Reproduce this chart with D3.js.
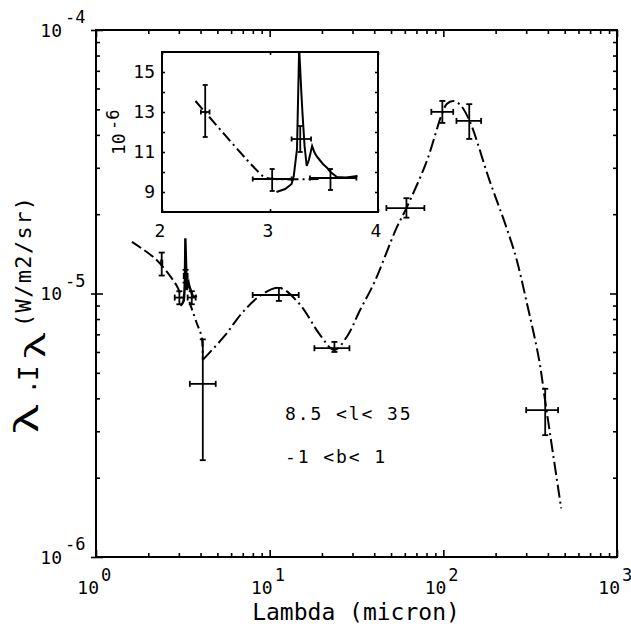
<!DOCTYPE html>
<html>
<head>
<meta charset="utf-8">
<script src="https://cdn.jsdelivr.net/npm/d3@7"></script>
<style>
body { margin: 0; background: #fff; }
text { font-family: "DejaVu Sans Mono", monospace; fill: #000; }
</style>
</head>
<body>
<svg id="chart" width="631" height="624"></svg>
<script>
// ---- data ----
// main panel: lambda (micron), lambda*I_lambda (W/m2/sr)
var nirDashed = [[1.61, 1.57e-5], [2.18, 1.36e-5], [2.66, 1.17e-5], [2.96, 1.05e-5], [3.1, 9.6e-6]];
var nirDrop = [[3.45, 9.3e-6], [3.8, 7.73e-6], [4.06, 6.84e-6], [4.12, 5.6e-6]];
var sedModel = [[4.12, 5.6e-6], [5.5, 6.9e-6], [7.0, 8.5e-6], [9.0, 9.9e-6], [11.4, 1.05e-5],
    [14.9, 9.1e-6], [19.4, 7.0e-6], [23.6, 6.1e-6], [28, 6.9e-6], [33, 8.6e-6], [40, 1.1e-5],
    [53.7, 1.77e-5], [61.3, 2.11e-5], [80, 3.16e-5], [98.7, 4.85e-5], [105, 5.25e-5],
    [114, 5.38e-5], [125, 5.2e-5], [141, 4.55e-5], [184, 2.7e-5], [233, 1.75e-5],
    [263, 1.36e-5], [300, 9.45e-6], [356, 5.6e-6], [386, 3.9e-6], [477, 1.53e-6]];
// [lambda, flux, lambdaLo, lambdaHi, fluxLo, fluxHi]
var mainPoints = [
    [2.39, 1.31e-5, 2.37, 2.41, 1.17e-5, 1.43e-5],
    [3.02, 9.65e-6, 2.84, 3.2, 9.1e-6, 1.02e-5],
    [3.28, 1.165e-5, 3.2, 3.37, 1.1e-5, 1.23e-5],
    [3.56, 9.65e-6, 3.37, 3.75, 9.1e-6, 1.02e-5],
    [4.12, 4.54e-6, 3.47, 4.89, 2.33e-6, 6.7e-6],
    [11.3, 9.87e-6, 7.98, 14.7, 9.37e-6, 1.05e-5],
    [23.6, 6.2e-6, 18.1, 28.8, 6.0e-6, 6.55e-6],
    [61.3, 2.11e-5, 47, 77.8, 1.94e-5, 2.3e-5],
    [98.7, 4.89e-5, 85.3, 114, 4.44e-5, 5.38e-5],
    [141, 4.52e-5, 119, 165, 3.86e-5, 5.23e-5],
    [386, 3.61e-6, 300, 458, 2.9e-6, 4.35e-6]
];

// inset: lambda (micron), flux in units of 1e-6
var spectrum = [[3.06, 9.0], [3.14, 9.15], [3.2, 9.4], [3.22, 9.8], [3.25, 11.15], [3.27, 16.2],
    [3.29, 14.0], [3.3, 13.0], [3.32, 11.3], [3.34, 10.3], [3.36, 10.6], [3.39, 11.3],
    [3.41, 11.0], [3.43, 10.8], [3.46, 10.6], [3.49, 10.4], [3.53, 10.2], [3.56, 10.0],
    [3.62, 9.75], [3.7, 9.72], [3.74, 9.75], [3.81, 9.8]];
var insetModel = [[2.31, 13.55], [2.84, 10.3], [2.95, 9.75], [3.05, 9.65], [3.45, 9.65]];
var insetPoints = [
    [2.40, 13.0, 2.36, 2.44, 11.75, 14.35],
    [3.02, 9.65, 2.84, 3.2, 9.05, 10.15],
    [3.28, 11.65, 3.2, 3.38, 11.0, 12.3],
    [3.56, 9.7, 3.37, 3.8, 9.1, 10.15]
];

var xDecades = [0, 1, 2, 3];
var yDecades = [-4, -5, -6];
var insetXTicks = [2, 3, 4];
var insetYTicks = [9, 11, 13, 15];
var insetYMinor = [9, 10, 11, 12, 13, 14, 15];
var regionText = ["8.5 <l< 35", "-1 <b< 1"];

// ---- layout ----
var svg = d3.select("#chart"),
    margin = { top: 30, right: 14, bottom: 67, left: 96 },
    width = +svg.attr("width") - margin.left - margin.right,
    height = +svg.attr("height") - margin.top - margin.bottom,
    g = svg.append("g").attr("transform", "translate(" + margin.left + "," + margin.top + ")");

var x = d3.scaleLog().domain([1, 1000]).range([0, width]);
var y = d3.scaleLog().domain([1e-6, 1e-4]).range([height, 0]);

function isMajor(v) {
    var l = Math.log10(v);
    return Math.abs(l - Math.round(l)) < 1e-9;
}
var xMinor = x.ticks().filter(function (v) { return !isMajor(v); });
var xMajor = xDecades.map(function (e) { return Math.pow(10, e); });
var yMinor = y.ticks().filter(function (v) { return !isMajor(v); });
var yMajor = yDecades.map(function (e) { return Math.pow(10, e); });

function tickSet(parent, axis, tr, vals, size) {
    parent.append("g")
        .attr("transform", tr)
        .call(axis.tickValues(vals).tickSize(size).tickFormat(""))
        .call(function (s) { s.select(".domain").remove(); })
        .selectAll("line").attr("stroke", "#000").attr("stroke-width", 1.6);
}

// ticks, all pointing in
tickSet(g, d3.axisTop(x), "translate(0," + height + ")", xMinor, 4);
tickSet(g, d3.axisTop(x), "translate(0," + height + ")", xMajor, 7);
tickSet(g, d3.axisBottom(x), "translate(0,0)", xMinor, 4);
tickSet(g, d3.axisBottom(x), "translate(0,0)", xMajor, 7);
tickSet(g, d3.axisRight(y), "translate(0,0)", yMinor, 4);
tickSet(g, d3.axisRight(y), "translate(0,0)", yMajor, 7);
tickSet(g, d3.axisLeft(y), "translate(0,0)", yMajor, 5);
tickSet(g, d3.axisLeft(y), "translate(" + width + ",0)", yMinor, 4);
tickSet(g, d3.axisLeft(y), "translate(" + width + ",0)", yMajor, 7);

g.append("rect")
    .attr("width", width).attr("height", height)
    .attr("fill", "none").attr("stroke", "#000").attr("stroke-width", 2);

// tick labels 10^n
xDecades.forEach(function (e) {
    var px = x(Math.pow(10, e));
    g.append("text").attr("x", px + 3).attr("y", height + 37)
        .attr("text-anchor", "end").attr("font-size", 18).text("10");
    g.append("text").attr("x", px + 5).attr("y", height + 24)
        .attr("font-size", 17).text(e);
});
yDecades.forEach(function (e) {
    var py = y(Math.pow(10, e));
    g.append("text").attr("x", -34).attr("y", py + 6.5)
        .attr("text-anchor", "end").attr("font-size", 18).text("10");
    g.append("text").attr("x", -31).attr("y", py - 7)
        .attr("font-size", 17).text(e);
});

// axis titles
g.append("text")
    .attr("x", 260).attr("y", height + 63)
    .attr("text-anchor", "middle").attr("font-size", 23)
    .text("Lambda (micron)");

var yl = svg.append("g").attr("transform", "translate(38,432) rotate(-90)");
yl.append("text").attr("x", 0).attr("y", 0)
    .style("font-family", "Noto Sans").attr("font-size", 32)
    .attr("textLength", 27).attr("lengthAdjust", "spacingAndGlyphs").text("λ");
yl.append("text").attr("x", 38).attr("y", -2).attr("font-size", 24).text(".");
yl.append("text").attr("x", 51).attr("y", 0).attr("font-size", 26).text("I");
yl.append("text").attr("x", 75).attr("y", 7)
    .style("font-family", "Noto Sans").attr("font-size", 28)
    .attr("textLength", 24).attr("lengthAdjust", "spacingAndGlyphs").text("λ");
yl.append("text").attr("x", 105).attr("y", -7).attr("font-size", 22)
    .attr("textLength", 130).text("(W/m2/sr)");

// region annotation
regionText.forEach(function (t, i) {
    g.append("text")
        .attr("x", 189).attr("y", 390 + i * 43)
        .attr("font-size", 18).attr("letter-spacing", 1.9)
        .text(t);
});

// ---- main curves ----
function lineGen(sx, sy, curve) {
    return d3.line()
        .x(function (d) { return sx(d[0]); })
        .y(function (d) { return sy(d[1]); })
        .curve(curve);
}
var smooth = lineGen(x, y, d3.curveCatmullRom.alpha(0.5));

g.append("path").datum(nirDashed).attr("d", smooth)
    .attr("fill", "none").attr("stroke", "#000").attr("stroke-width", 2)
    .attr("stroke-dasharray", "11,4");
g.append("path").datum(nirDrop).attr("d", smooth)
    .attr("fill", "none").attr("stroke", "#000").attr("stroke-width", 2)
    .attr("stroke-dasharray", "9,4,2,4");
g.append("path").datum(sedModel).attr("d", smooth)
    .attr("fill", "none").attr("stroke", "#000").attr("stroke-width", 2)
    .attr("stroke-dasharray", "13,4,2,4");
g.append("path")
    .datum(spectrum.map(function (d) { return [d[0], d[1] * 1e-6]; }))
    .attr("d", lineGen(x, y, d3.curveLinear))
    .attr("fill", "none").attr("stroke", "#000").attr("stroke-width", 2.4);

function errorBars(parent, sx, sy, data, cap) {
    var eb = parent.append("g").attr("stroke", "#000").attr("stroke-width", 1.8);
    data.forEach(function (d) {
        var cx = sx(d[0]), cy = sy(d[1]);
        var x0 = sx(d[2]), x1 = sx(d[3]), y0 = sy(d[4]), y1 = sy(d[5]);
        eb.append("line").attr("x1", x0).attr("x2", x1).attr("y1", cy).attr("y2", cy);
        eb.append("line").attr("x1", cx).attr("x2", cx).attr("y1", y0).attr("y2", y1);
        [x0, x1].forEach(function (px) {
            eb.append("line").attr("x1", px).attr("x2", px).attr("y1", cy - cap).attr("y2", cy + cap);
        });
        [y0, y1].forEach(function (py) {
            eb.append("line").attr("x1", cx - cap).attr("x2", cx + cap).attr("y1", py).attr("y2", py);
        });
    });
}
errorBars(g, x, y, mainPoints, 3);

// ---- inset ----
var iw = 216, ih = 160;
var ig = g.append("g").attr("transform", "translate(66,22)");
var ix = d3.scaleLinear().domain([2, 4]).range([0, iw]);
var iy = d3.scaleLinear().domain([8, 16]).range([ih, 0]);

ig.append("rect").attr("width", iw).attr("height", ih).attr("fill", "#fff");
svg.append("defs").append("clipPath").attr("id", "insetClip")
    .append("rect").attr("width", iw).attr("height", ih);

tickSet(ig, d3.axisRight(iy), "translate(0,0)", insetYMinor, 3);
tickSet(ig, d3.axisLeft(iy), "translate(" + iw + ",0)", insetYMinor, 3);
tickSet(ig, d3.axisTop(ix), "translate(0," + ih + ")", insetXTicks, 3);
tickSet(ig, d3.axisBottom(ix), "translate(0,0)", insetXTicks, 3);

var plot = ig.append("g").attr("clip-path", "url(#insetClip)");
plot.append("path").datum(insetModel).attr("d", lineGen(ix, iy, d3.curveCatmullRom.alpha(0.5)))
    .attr("fill", "none").attr("stroke", "#000").attr("stroke-width", 2)
    .attr("stroke-dasharray", "11,4,2,4");
plot.append("path").datum(spectrum).attr("d", lineGen(ix, iy, d3.curveLinear))
    .attr("fill", "none").attr("stroke", "#000").attr("stroke-width", 2);
errorBars(plot, ix, iy, insetPoints, 2.5);

ig.append("rect").attr("width", iw).attr("height", ih)
    .attr("fill", "none").attr("stroke", "#000").attr("stroke-width", 2);

insetYTicks.forEach(function (v) {
    ig.append("text").attr("x", -7).attr("y", iy(v) + 6)
        .attr("text-anchor", "end").attr("font-size", 18).text(v);
});
insetXTicks.forEach(function (v) {
    ig.append("text").attr("x", ix(v) - 2).attr("y", 185)
        .attr("text-anchor", "middle").attr("font-size", 18).text(v);
});
var il = ig.append("g").attr("transform", "translate(-37,103) rotate(-90)");
il.append("text").attr("x", 0).attr("y", 0).attr("font-size", 18).text("10");
il.append("text").attr("x", 25).attr("y", -6).attr("font-size", 17).text("-6");
</script>
</body>
</html>
